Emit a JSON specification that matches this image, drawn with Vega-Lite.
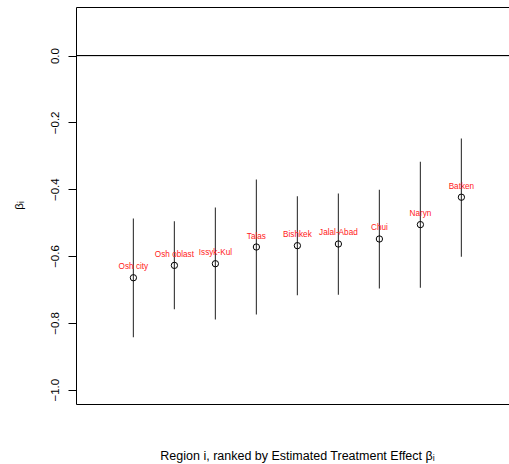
{
  "$schema": "https://vega.github.io/schema/vega-lite/v6.json",
  "width": 433,
  "height": 397,
  "autosize": {"type": "none"},
  "padding": {"left": 76, "top": 7, "right": 0, "bottom": 60},
  "background": "white",
  "config": {
    "view": {"stroke": null},
    "font": "Liberation Sans",
    "axis": {"domainColor": "black", "domainWidth": 1, "tickColor": "black", "labelColor": "black", "titleColor": "black", "labelFont": "Liberation Sans", "titleFont": "Liberation Sans", "titleFontWeight": "normal", "grid": false}
  },
  "data": {
    "values": [
      {"rank": 1, "region": "Osh city", "est": -0.665, "lo": -0.843, "hi": -0.488},
      {"rank": 2, "region": "Osh oblast", "est": -0.628, "lo": -0.759, "hi": -0.496},
      {"rank": 3, "region": "Issyk-Kul", "est": -0.623, "lo": -0.790, "hi": -0.455},
      {"rank": 4, "region": "Talas", "est": -0.573, "lo": -0.775, "hi": -0.371},
      {"rank": 5, "region": "Bishkek", "est": -0.569, "lo": -0.717, "hi": -0.421},
      {"rank": 6, "region": "Jalal-Abad", "est": -0.564, "lo": -0.716, "hi": -0.413},
      {"rank": 7, "region": "Chui", "est": -0.549, "lo": -0.697, "hi": -0.402},
      {"rank": 8, "region": "Naryn", "est": -0.506, "lo": -0.695, "hi": -0.318},
      {"rank": 9, "region": "Batken", "est": -0.424, "lo": -0.602, "hi": -0.248}
    ]
  },
  "resolve": {"axis": {"x": "independent"}},
  "layer": [
    {
      "mark": {"type": "rule", "color": "black", "strokeWidth": 1},
      "encoding": {
        "y": {
          "datum": 0,
          "type": "quantitative",
          "scale": {"domain": [-1.0428, 0.1452], "nice": false, "zero": false},
          "axis": {
            "orient": "left",
            "values": [-1, -0.8, -0.6, -0.4, -0.2, 0],
            "format": ".1f",
            "labelExpr": "replace(datum.label, '-', '−')",
            "labelAngle": -90,
            "labelAlign": "center",
            "labelBaseline": "middle",
            "labelFontSize": 11.5,
            "labelPadding": 13,
            "tickSize": 8,
            "domain": true,
            "title": "βᵢ",
            "titleFontSize": 11.5,
            "titleAngle": -90,
            "titleX": -57,
            "titleY": 198,
            "titleAlign": "center",
            "titleBaseline": "middle"
          }
        }
      }
    },
    {
      "mark": {"type": "rule", "color": "#444444", "strokeWidth": 1.2},
      "encoding": {
        "x": {
          "field": "rank",
          "type": "quantitative",
          "scale": {"domain": [-0.4, 10.161], "nice": false, "zero": false},
          "axis": {
            "orient": "bottom",
            "domain": true,
            "ticks": false,
            "labels": false,
            "title": "Region i, ranked by Estimated Treatment Effect βᵢ",
            "titleFontSize": 12.5,
            "titleX": 221,
            "titleY": 51,
            "titleAlign": "center",
            "titleBaseline": "middle"
          }
        },
        "y": {"field": "lo", "type": "quantitative"},
        "y2": {"field": "hi"}
      }
    },
    {
      "mark": {"type": "point", "shape": "circle", "filled": false, "color": "black", "strokeWidth": 1, "size": 40, "opacity": 1},
      "encoding": {
        "x": {
          "field": "rank",
          "type": "quantitative",
          "axis": {"orient": "top", "domain": true, "ticks": false, "labels": false, "title": null}
        },
        "y": {"field": "est", "type": "quantitative"}
      }
    },
    {
      "mark": {"type": "text", "color": "#FF2020", "fontSize": 8.2, "dy": -10.5, "align": "center", "baseline": "middle", "font": "Liberation Sans"},
      "encoding": {
        "x": {"field": "rank", "type": "quantitative", "axis": null},
        "y": {"field": "est", "type": "quantitative"},
        "text": {"field": "region"}
      }
    }
  ]
}
